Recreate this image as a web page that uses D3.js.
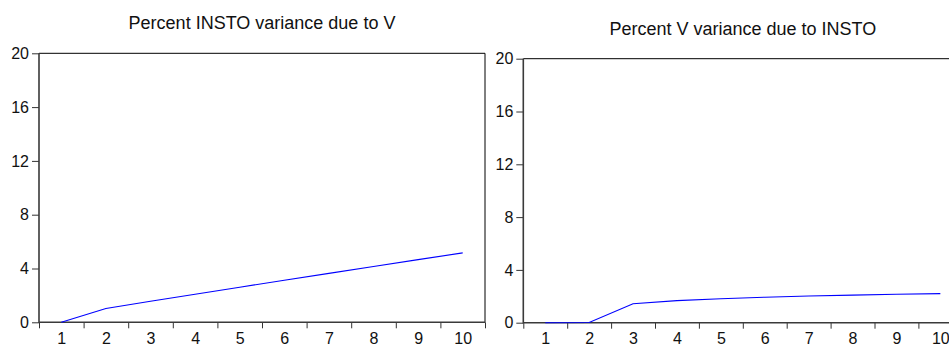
<!DOCTYPE html>
<html>
<head>
<meta charset="utf-8">
<script src="https://cdn.jsdelivr.net/npm/d3@7"></script>
<style>
    body { margin: 0; background: #fff; }
    svg { display: block; font-family: Arial, 'Liberation Sans', sans-serif; }
</style>
</head>
<body>
<svg width="949" height="344"></svg>
<script>
// forecast horizon
const periods = [1, 2, 3, 4, 5, 6, 7, 8, 9, 10];
// variance decomposition, percent
const instoDueToV = [0, 1.02, 1.56, 2.08, 2.61, 3.13, 3.64, 4.15, 4.66, 5.16];
const vDueToInsto = [0, 0.02, 1.44, 1.67, 1.82, 1.93, 2.02, 2.09, 2.15, 2.2];
const yTicks = [0, 4, 8, 12, 16, 20];
const titles = ['Percent INSTO variance due to V', 'Percent V variance due to INSTO'];

const svg = d3.select('svg');

const panels = [
    { left: 39, right: 485, top: 53.3, bottom: 322.3, titleY: 29, values: instoDueToV, title: titles[0] },
    { left: 523.3, right: 962.3, top: 58.7, bottom: 322.7, titleY: 34.5, values: vDueToInsto, title: titles[1] }
];

panels.forEach(function (p) {
    const x = d3.scaleLinear().domain([0.5, 10.5]).range([p.left, p.right]);
    const y = d3.scaleLinear().domain([0, 20]).range([p.bottom, p.top]);
    const g = svg.append('g');

    // frame: top and right thin
    g.append('path')
        .attr('fill', 'none')
        .attr('stroke', '#000')
        .attr('stroke-width', 1)
        .attr('d', `M${p.left},${p.top}H${p.right}V${p.bottom}`);

    // x ticks at category boundaries
    const xAxisTicks = g.append('g')
        .attr('transform', `translate(0,${p.bottom})`)
        .call(d3.axisBottom(x)
            .tickValues(d3.range(0.5, 11, 1))
            .tickSize(6)
            .tickSizeOuter(0)
            .tickFormat(''));
    xAxisTicks.select('.domain').remove();
    xAxisTicks.selectAll('line').attr('stroke', '#333');

    // x labels at category centers
    const xLabels = g.append('g')
        .attr('transform', `translate(0,${p.bottom})`)
        .call(d3.axisBottom(x)
            .tickValues(periods)
            .tickSize(0)
            .tickPadding(10));
    xLabels.select('.domain').remove();
    xLabels.selectAll('text')
        .attr('font-size', 16)
        .attr('font-family', null)
        .attr('fill', '#111');

    const yAxis = g.append('g')
        .attr('transform', `translate(${p.left},0)`)
        .call(d3.axisLeft(y)
            .tickValues(yTicks)
            .tickSize(7)
            .tickSizeOuter(0)
            .tickPadding(3));
    yAxis.select('.domain').remove();
    yAxis.selectAll('line').attr('stroke', '#333');
    yAxis.selectAll('text')
        .attr('font-size', 16)
        .attr('font-family', null)
        .attr('fill', '#111');

    // left and bottom axis lines, heavier
    g.append('path')
        .attr('fill', 'none')
        .attr('stroke', '#3a3a3a')
        .attr('stroke-width', 1.6)
        .attr('d', `M${p.left},${p.top}V${p.bottom}H${p.right}`);

    g.append('path')
        .datum(p.values)
        .attr('fill', 'none')
        .attr('stroke', '#0000ff')
        .attr('stroke-width', 1.1)
        .attr('d', d3.line()
            .x((d, i) => x(periods[i]))
            .y((d) => y(d)));

    g.append('text')
        .attr('x', (p.left + p.right) / 2)
        .attr('y', p.titleY)
        .attr('text-anchor', 'middle')
        .attr('font-size', 18)
        .attr('fill', '#111')
        .text(p.title);
});
</script>
</body>
</html>
